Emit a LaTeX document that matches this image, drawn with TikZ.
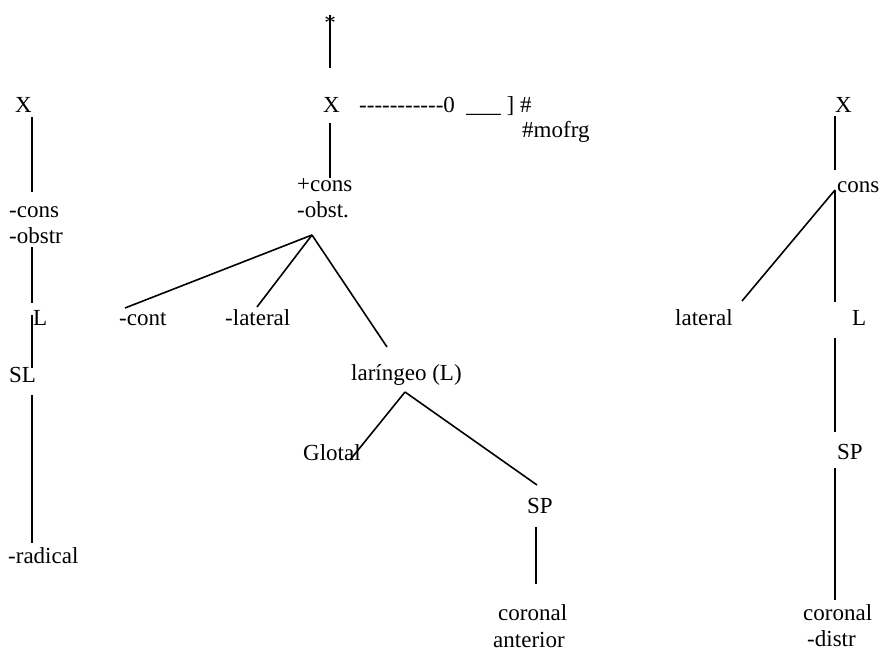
\documentclass[tikz,border=0pt]{standalone}
\usepackage{fontspec}
\setmainfont{Liberation Serif}[Ligatures=TeXOff]
\begin{document}
\begin{tikzpicture}[x=1pt,y=-1pt,
  lbl/.style={anchor=base west,inner sep=0pt,font=\fontsize{23}{26}\selectfont},
  branch/.style={line width=1.6pt,black}]
\useasboundingbox (0,0) rectangle (881,654);

% ---- middle tree ----
\node[lbl,anchor=base] (star) at (330,30) {*};
\node[lbl] (Xc) at (323,112) {X};
\node[lbl] (tail) at (359,112) {-----------0~~\_\_\_ ] \#};
\node[lbl] (mofrg) at (522,137) {\#mofrg};
\node[lbl] (pcons) at (297,191) {+cons};
\node[lbl] (mobst) at (297,217) {-obst.};
\node[lbl] (cont) at (119,325) {-cont};
\node[lbl] (latm) at (225,325) {-lateral};
\node[lbl] (lar) at (351,380) {laríngeo (L)};
\node[lbl] (glotal) at (303,460) {Glotal};
\node[lbl] (spC) at (527,513) {SP};
\node[lbl] (corC) at (498,620) {coronal};
\node[lbl] (ant) at (493,647) {anterior};

\coordinate (s1) at (330,15);  \coordinate (s2) at (330,68);
\coordinate (c1) at (330,123); \coordinate (c2) at (330,178);
\coordinate (apexC) at (312,235);
\coordinate (toCont) at (125,308);
\coordinate (toLat) at (257,307);
\coordinate (toLar) at (387,347);
\coordinate (apexL) at (405,392);
\coordinate (toGl) at (350,460);
\coordinate (toSP) at (537,485);
\coordinate (p1) at (536,527); \coordinate (p2) at (536,584);

\draw[branch] (s1) -- (s2);
\draw[branch] (c1) -- (c2);
\draw[branch] (apexC) -- (toCont);
\draw[branch] (apexC) -- (toLat);
\draw[branch] (apexC) -- (toLar);
\draw[branch] (apexL) -- (toGl);
\draw[branch] (apexL) -- (toSP);
\draw[branch] (p1) -- (p2);

% ---- left tree ----
\node[lbl] (Xl) at (15,112) {X};
\node[lbl] (mcons) at (9,217) {-cons};
\node[lbl] (mobstr) at (9,243) {-obstr};
\node[lbl] (Ll) at (33,325) {L};
\node[lbl] (SLl) at (9,382) {SL};
\node[lbl] (rad) at (8,563) {-radical};

\coordinate (l1) at (32,117); \coordinate (l2) at (32,192);
\coordinate (l3) at (32,247); \coordinate (l4) at (32,303);
\coordinate (l5) at (32,315); \coordinate (l6) at (32,368);
\coordinate (l7) at (32,395); \coordinate (l8) at (32,543);
\draw[branch] (l1) -- (l2);
\draw[branch] (l3) -- (l4);
\draw[branch] (l5) -- (l6);
\draw[branch] (l7) -- (l8);

% ---- right tree ----
\node[lbl] (Xr) at (835,112) {X};
\node[lbl] (consR) at (837,192) {cons};
\node[lbl] (latR) at (675,325) {lateral};
\node[lbl] (LR) at (852,325) {L};
\node[lbl] (spR) at (837,459) {SP};
\node[lbl] (corR) at (803,620) {coronal};
\node[lbl] (distr) at (807,646) {-distr};

\coordinate (r1) at (835,116); \coordinate (r2) at (835,170);
\coordinate (apexR) at (835,190); \coordinate (r3) at (835,302);
\coordinate (toLatR) at (742,301);
\coordinate (r4) at (835,338); \coordinate (r5) at (835,432);
\coordinate (r6) at (835,468); \coordinate (r7) at (835,600);
\draw[branch] (r1) -- (r2);
\draw[branch] (apexR) -- (r3);
\draw[branch] (apexR) -- (toLatR);
\draw[branch] (r4) -- (r5);
\draw[branch] (r6) -- (r7);
\end{tikzpicture}
\end{document}
